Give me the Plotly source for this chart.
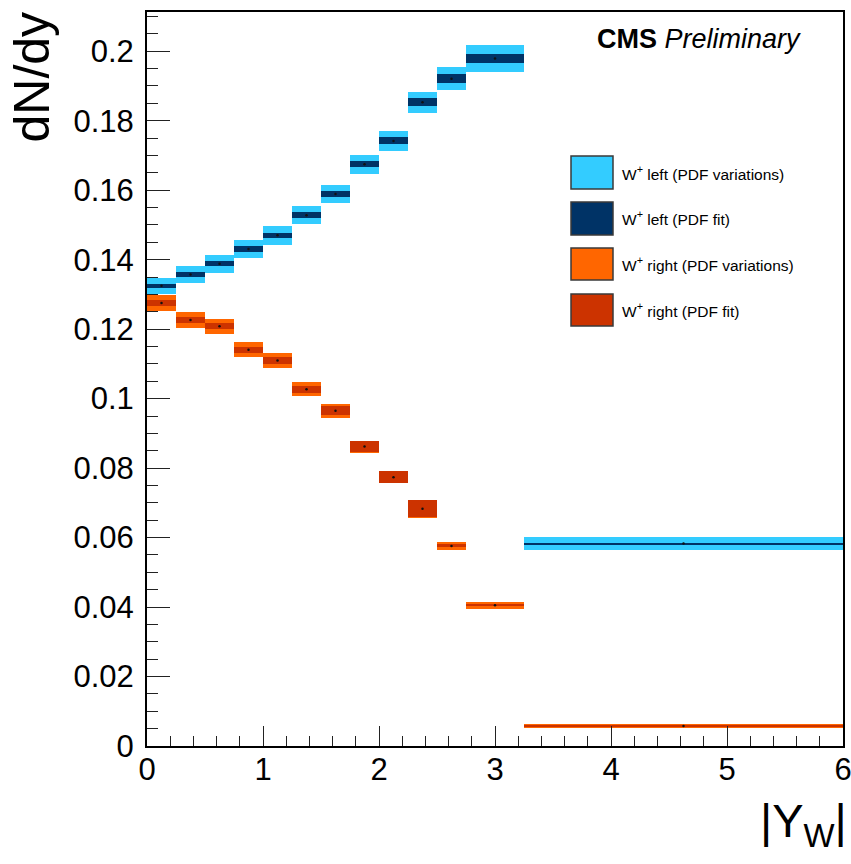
import plotly.graph_objects as go

# ---------------- data ----------------
bin_edges = [0.0, 0.25, 0.5, 0.75, 1.0, 1.25, 1.5, 1.75, 2.0, 2.25, 2.5, 2.75, 3.25, 6.0]

left_value = [0.1325, 0.1357, 0.1388, 0.1431, 0.1470, 0.1528, 0.1589, 0.1675,
              0.1742, 0.1853, 0.1921, 0.1979, 0.0583]
left_var_err = [0.0023, 0.0025, 0.0025, 0.0026, 0.00264, 0.00264, 0.0027, 0.00274,
                0.00288, 0.00307, 0.00331, 0.00389, 0.00183]
left_fit_err = [0.00062, 0.00076, 0.00072, 0.00082, 0.00082, 0.00082, 0.00082, 0.00096,
                0.00101, 0.00115, 0.00125, 0.0012, 0.00017]

right_value = [0.1275, 0.1226, 0.1208, 0.1141, 0.1110, 0.1027, 0.0965, 0.0862,
               0.0774, 0.0683, 0.0576, 0.0405, 0.00576]
right_var_err = [0.0023, 0.00226, 0.00216, 0.00216, 0.00216, 0.00206, 0.00202, 0.00173,
                 0.00177, 0.00252, 0.0012, 0.00105, 0.00048]
right_fit_err = [0.00096, 0.00082, 0.00086, 0.00086, 0.00096, 0.00105, 0.00125, 0.00158,
                 0.00166, 0.00249, 0.00043, 0.00029, 0.00014]

legend_labels = ["W<sup>+</sup> left (PDF variations)", "W<sup>+</sup> left (PDF fit)",
                 "W<sup>+</sup> right (PDF variations)", "W<sup>+</sup> right (PDF fit)"]

C_LBLUE = "#33CCFF"
C_DBLUE = "#003366"
C_ORANGE = "#FF6600"
C_DRED = "#CC3300"
colors = [C_LBLUE, C_DBLUE, C_ORANGE, C_DRED]

# ---------------- derived ----------------
centers = [(a + b) / 2 for a, b in zip(bin_edges[:-1], bin_edges[1:])]
widths = [b - a for a, b in zip(bin_edges[:-1], bin_edges[1:])]

fig = go.Figure()

def band(values, errs, color):
    fig.add_trace(go.Bar(
        x=centers, y=[2 * e for e in errs], base=[v - e for v, e in zip(values, errs)],
        width=widths, marker=dict(color=color, line=dict(width=0)),
        showlegend=False, hoverinfo="skip"))

band(left_value, left_var_err, C_LBLUE)
band(left_value, left_fit_err, C_DBLUE)
band(right_value, right_var_err, C_ORANGE)
band(right_value, right_fit_err, C_DRED)

for vals in (left_value, right_value):
    fig.add_trace(go.Scatter(x=centers, y=vals, mode="markers",
                             marker=dict(size=2.5, color="#111111"),
                             showlegend=False, hoverinfo="skip"))

# ---------------- layout ----------------
W, H = 851, 864
# plot-area edges in pixels
L, R, T, B = 147, 843, 12, 746

def px(xs):
    return (xs - L) / (R - L)

def py(ys):
    return (B - ys) / (B - T)

FONT = "Liberation Sans, Arial, Helvetica, sans-serif"

fig.update_layout(
    width=W, height=H,
    margin=dict(l=L, r=W - R, t=T, b=H - B, autoexpand=False),
    paper_bgcolor="white", plot_bgcolor="white",
    barmode="overlay", bargap=0,
    font=dict(family=FONT, color="black"),
    xaxis=dict(range=[0, 6], tickvals=[0, 1, 2, 3, 4, 5, 6], automargin=False,
               ticks="inside", ticklen=20, tickwidth=1.3, tickcolor="#222",
               minor=dict(dtick=0.2, tick0=0, ticks="inside", ticklen=10, tickwidth=1.3, tickcolor="#222"),
               showline=True, linecolor="black", linewidth=2, mirror=True,
               showgrid=False, zeroline=False, ticklabeloverflow="allow",
               tickfont=dict(size=31, family=FONT), ticklabelstandoff=-5),
    yaxis=dict(range=[0, 0.2113], tick0=0, dtick=0.02, automargin=False,
               ticks="inside", ticklen=23, tickwidth=1.3, tickcolor="#222",
               minor=dict(dtick=0.005, tick0=0, ticks="inside", ticklen=11, tickwidth=1.3, tickcolor="#222"),
               showline=True, linecolor="black", linewidth=2, mirror=True,
               showgrid=False, zeroline=False, ticklabeloverflow="allow",
               tickfont=dict(size=31, family=FONT), ticklabelstandoff=5),
)

# legend drawn manually (ROOT-style large boxes)
rows = [(156, 189), (202, 235), (248, 280), (294, 326)]
for (y0, y1), col, lab in zip(rows, colors, legend_labels):
    fig.add_shape(type="rect", xref="paper", yref="paper",
                  x0=px(571), x1=px(613), y0=py(y1), y1=py(y0),
                  fillcolor=col, line=dict(color="#3a3a3a", width=1.5))
    fig.add_annotation(xref="paper", yref="paper", x=px(620), y=py((y0 + y1) / 2),
                       xanchor="left", yanchor="middle", showarrow=False,
                       text=lab, font=dict(size=15.5, family=FONT, color="black"))

fig.add_annotation(xref="paper", yref="paper", x=px(595), y=py(39),
                   xanchor="left", yanchor="middle", showarrow=False,
                   text="<b>CMS</b> <i>Preliminary</i>",
                   font=dict(size=27, family=FONT, color="black"))

fig.add_annotation(xref="paper", yref="paper", x=0, y=py(10), xshift=31 - L,
                   xanchor="center", yanchor="top", showarrow=False, textangle=-90,
                   text="dN/dy", font=dict(size=50, family=FONT, color="black"))

fig.add_annotation(xref="paper", yref="paper", x=1, y=py(824), xshift=6,
                   xanchor="right", yanchor="middle", showarrow=False,
                   text="|Y<sub>W</sub>|", font=dict(size=47, family=FONT, color="black"))

fig.write_html(
    "out.html",
    config={"displayModeBar": False},
    post_script="document.body.style.margin='0';"
                "document.body.style.overflow='hidden';"
                "document.documentElement.style.overflow='hidden';",
)
